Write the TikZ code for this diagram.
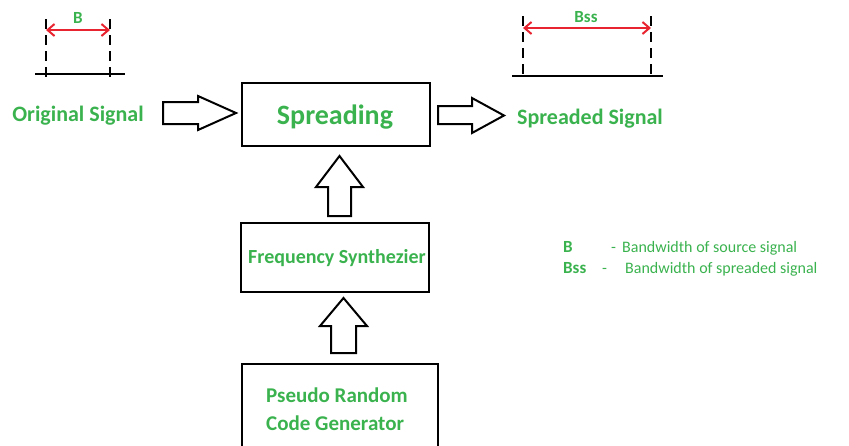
\documentclass[tikz,border=0pt]{standalone}
\usepackage{fontspec}
\setmainfont{Carlito}
\usetikzlibrary{arrows.meta}
\definecolor{gfgreen}{RGB}{58,178,78}
\definecolor{sigred}{RGB}{232,36,48}
\tikzset{
  box/.style={draw=black,line width=2pt,minimum width=188pt,inner sep=0pt},
  gtext/.style={text=gfgreen,font=\bfseries,inner sep=0pt},
  ltext/.style={text=gfgreen,inner sep=0pt,anchor=base west,font=\fontsize{16}{18}\selectfont},
  hollow/.style={draw=black,line width=2pt,line join=miter,fill=white},
  axis/.style={draw=black,line width=2.2pt},
  tick/.style={draw=black,line width=2.2pt,dash pattern=on 10pt off 6pt},
  band/.style={draw=sigred,line width=2pt,{Straight Barb[length=7pt,width=12pt]}-{Straight Barb[length=7pt,width=12pt]}},
}
\begin{document}
\begin{tikzpicture}[x=1pt,y=-1pt]
\useasboundingbox (0,0) rectangle (849,445);
\clip (0,0) rectangle (849,445);
% left signal
\coordinate (la) at (35,74); \coordinate (lb) at (125,74);
\coordinate (l1t) at (46,19); \coordinate (l1b) at (46,78);
\coordinate (l2t) at (110,19); \coordinate (l2b) at (110,78);
\draw[axis] (la) -- (lb);
\draw[tick] (l1t) -- (l1b);
\draw[tick] (l2t) -- (l2b);
\draw[band] (46,30) -- (110,30);
\node[gtext,font=\bfseries\fontsize{17}{18}\selectfont] (Blab) at (78,18) {B};
% right signal
\coordinate (ra) at (512,76); \coordinate (rb) at (663,76);
\coordinate (r1t) at (523,16); \coordinate (r1b) at (523,80);
\coordinate (r2t) at (651,16); \coordinate (r2b) at (651,80);
\draw[axis] (ra) -- (rb);
\draw[tick] (r1t) -- (r1b);
\draw[tick] (r2t) -- (r2b);
\draw[band] (523,28) -- (651,28);
\node[gtext,font=\bfseries\fontsize{17}{18}\selectfont] (Bsslab) at (586,17) {Bss};
% labels
\node[gtext,font=\bfseries\fontsize{22}{24}\selectfont] (orig) at (78,116) {Original Signal};
\node[gtext,font=\bfseries\fontsize{22}{24}\selectfont] (spr) at (590,119) {Spreaded Signal};
% boxes
\node[box,minimum height=63pt] (spreading) at (336,114.5) {};
\node[gtext,font=\bfseries\fontsize{28}{30}\selectfont] (spreadtxt) at (335,117.5) {Spreading};
\node[box,minimum height=69pt] (freq) at (335,257.5) {};
\node[gtext,font=\bfseries\fontsize{20}{22}\selectfont] (freqtxt) at (337,258) {Frequency Synthezier};
\draw[line width=2pt] (242,450) -- (242,364) -- (438,364) -- (438,450);
\node[gtext,font=\bfseries\fontsize{21}{28}\selectfont,align=left] (prng) at (337,409) {Pseudo Random\\Code Generator};
% hollow arrows
\draw[hollow] (163,102) -- (198,102) -- (198,96) -- (236,113) -- (198,130) -- (198,124) -- (163,124) -- cycle;
\draw[hollow] (438,106) -- (472,106) -- (472,98) -- (504,115.5) -- (472,133) -- (472,124) -- (438,124) -- cycle;
\draw[hollow] (328,216) -- (328,187) -- (316,187) -- (339.5,156) -- (363,187) -- (351,187) -- (351,216) -- cycle;
\draw[hollow] (331,353) -- (331,326) -- (320,326) -- (343.5,298) -- (367,326) -- (356,326) -- (356,353) -- cycle;
% legend
\node[ltext,font=\bfseries\fontsize{17}{18}\selectfont] (lgB) at (563,252) {B};
\node[ltext] (lgBd) at (611,252) {-};
\node[ltext] (lgBt) at (622,252) {Bandwidth of source signal};
\node[ltext,font=\bfseries\fontsize{17}{18}\selectfont] (lgS) at (563,273) {Bss};
\node[ltext] (lgSd) at (602,273) {-};
\node[ltext] (lgSt) at (625,273) {Bandwidth of spreaded signal};
\end{tikzpicture}
\end{document}
